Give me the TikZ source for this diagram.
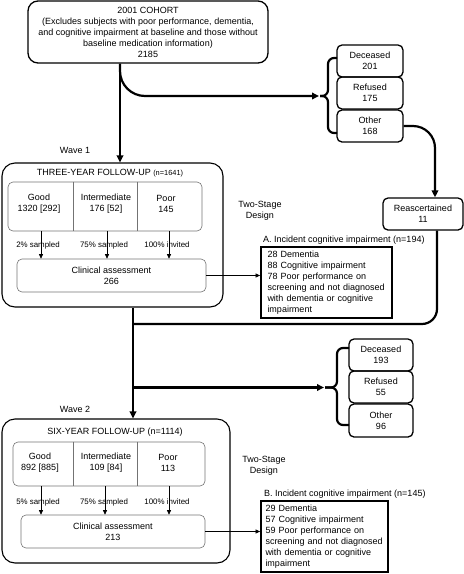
\documentclass[tikz,border=0pt]{standalone}
\usepackage{fontspec}
\setmainfont{Liberation Sans}
\usetikzlibrary{arrows.meta}
\begin{document}
\begin{tikzpicture}[x=1pt,y=-1pt,
  txt/.style={font=\fontsize{9}{11}\selectfont, inner sep=0pt, align=center},
  stxt/.style={font=\fontsize{7.9}{9}\selectfont, inner sep=0pt, align=center},
  rbox/.style={draw, line width=1.3pt, rounded corners=5pt, inner sep=0pt, align=center, font=\fontsize{9}{11}\selectfont},
  bigbox/.style={draw, line width=1.1pt, rounded corners=13pt, inner sep=0pt},
  inbox/.style={draw=black!55, line width=0.6pt, rounded corners=5pt, inner sep=0pt, align=center, font=\fontsize{9}{11}\selectfont},
  resbox/.style={draw, line width=1.8pt, inner xsep=6.5pt, inner ysep=0pt, text width=118pt, align=left, font=\fontsize{9}{11}\selectfont},
  main/.style={line width=2.2pt, -{Triangle[length=7pt,width=6.5pt]}},
  mainline/.style={line width=2.2pt},
  brace/.style={line width=2.2pt, rounded corners=6pt},
  thinarr/.style={line width=0.6pt, -{Triangle[length=4.5pt,width=4pt]}},
  divider/.style={draw=black!55, line width=0.6pt}
]
\useasboundingbox (0,0) rectangle (464,574);

% cohort
\node[rbox, rounded corners=10pt, minimum width=240pt, minimum height=62pt] (coh) at (148,32)
  {2001 COHORT\\(Excludes subjects with poor performance, dementia,\\and cognitive impairment at baseline and those without\\baseline medication information)\\2185};

% side boxes wave 1
\node[rbox, minimum width=66pt, minimum height=32pt] (dec1) at (370,61) {Deceased\\201};
\node[rbox, minimum width=66pt, minimum height=32pt] (ref1) at (370,93) {Refused\\175};
\node[rbox, minimum width=66pt, minimum height=32pt] (oth1) at (370,126) {Other\\168};
\node[rbox, minimum width=80pt, minimum height=32pt] (reas) at (423,214) {Reascertained\\11};

% three-year box
\node[bigbox, minimum width=221pt, minimum height=144pt] (ty) at (112.5,235) {};
\node[txt] (tyt) at (110,173) {THREE-YEAR FOLLOW-UP {\fontsize{7.4}{8}\selectfont(n=1641)}};
\node[inbox, minimum width=194pt, minimum height=49pt] (cat1) at (105,206.5) {};
\draw[divider] (73,0 |- cat1.north) -- (73,0 |- cat1.south);
\draw[divider] (137,0 |- cat1.north) -- (137,0 |- cat1.south);
\node[txt] (g1) at (39,203.5) {Good\\1320 [292]};
\node[txt] (i1) at (106,203.5) {Intermediate\\176 [52]};
\node[txt] (p1) at (166,203.5) {Poor\\145};
\node[inbox, minimum width=189pt, minimum height=33pt] (cl1) at (111.5,275.5) {Clinical assessment\\266};
\draw[thinarr] (41,0 |- cat1.south) -- (41,0 |- cl1.north);
\draw[thinarr] (107,0 |- cat1.south) -- (107,0 |- cl1.north);
\draw[thinarr] (169,0 |- cat1.south) -- (169,0 |- cl1.north);
\node[stxt] (s1a) at (38,245) {2\% sampled};
\node[stxt] (s1b) at (104,245) {75\% sampled};
\node[stxt] (s1c) at (167,245) {100\% invited};

\node[txt] (w1) at (75,150) {Wave 1};
\node[txt] (tsd1) at (260,210.5) {Two-Stage\\Design};
\node[txt, anchor=west] (at) at (263,240) {A. Incident cognitive impairment (n=194)};
\node[resbox, minimum height=71pt] (ab) at (326.5,282.5)
  {28 Dementia\\88 Cognitive impairment\\78 Poor performance on\\screening and not diagnosed\\with dementia or cognitive\\impairment};
\draw[thinarr] (cl1.east) -- (ab.west |- cl1.east);

% side boxes wave 2
\node[rbox, minimum width=64pt, minimum height=32pt] (dec2) at (381,355) {Deceased\\193};
\node[rbox, minimum width=64pt, minimum height=32pt] (ref2) at (381,387) {Refused\\55};
\node[rbox, minimum width=64pt, minimum height=33pt] (oth2) at (381,420.5) {Other\\96};

% six-year box
\node[bigbox, minimum width=228pt, minimum height=144pt] (sy) at (116,491) {};
\node[txt] (syt) at (115,432) {SIX-YEAR FOLLOW-UP (n=1114)};
\node[inbox, minimum width=192pt, minimum height=44pt] (cat2) at (109,464) {};
\draw[divider] (73,0 |- cat2.north) -- (73,0 |- cat2.south);
\draw[divider] (137,0 |- cat2.north) -- (137,0 |- cat2.south);
\node[txt] (g2) at (40,463) {Good\\892 [885]};
\node[txt] (i2) at (106,463) {Intermediate\\109 [84]};
\node[txt] (p2) at (168,463) {Poor\\113};
\node[inbox, minimum width=184pt, minimum height=33pt] (cl2) at (113,531.5) {Clinical assessment\\213};
\draw[thinarr] (41,0 |- cat2.south) -- (41,0 |- cl2.north);
\draw[thinarr] (105,0 |- cat2.south) -- (105,0 |- cl2.north);
\draw[thinarr] (169,0 |- cat2.south) -- (169,0 |- cl2.north);
\node[stxt] (s2a) at (38,502) {5\% sampled};
\node[stxt] (s2b) at (104,502) {75\% sampled};
\node[stxt] (s2c) at (167,502) {100\% invited};

\node[txt] (w2) at (75,409) {Wave 2};
\node[txt] (tsd2) at (264,465.5) {Two-Stage\\Design};
\node[txt, anchor=west] (bt) at (264,494) {B. Incident cognitive impairment (n=145)};
\node[resbox, minimum height=71pt, inner xsep=4.5pt] (bb) at (324.5,536.5)
  {29 Dementia\\57 Cognitive impairment\\59 Poor performance on\\screening and not diagnosed\\with dementia or cognitive\\impairment};
\draw[thinarr] (cl2.east) -- (bb.west |- cl2.east);

% braces
\coordinate (b1) at (320,96);
\coordinate (b2) at (325,387.5);
\draw[brace] (337,58) -| (328,96) -- (b1);
\draw[brace] (337,133) -| (328,96) -- (b1);
\draw[brace] (349,348) -| (337,387.5) -- (b2);
\draw[brace] (349,425) -| (337,387.5) -- (b2);

% main flow
\draw[main] (120,0 |- coh.south) -- (120,0 |- ty.north);
\draw[main, rounded corners=25pt] (120,0 |- coh.south) |- ([xshift=-1pt]b1);
\draw[main, rounded corners=22pt] (oth1.east) -| (435,0 |- reas.north);
\draw[mainline, rounded corners=15pt] (437,0 |- reas.south) |- (133,324);
\draw[main] (133,0 |- ty.south) -- (133,0 |- sy.north);
\draw[main] (133,387.5) -- ([xshift=-1pt]b2);
\end{tikzpicture}
\end{document}
